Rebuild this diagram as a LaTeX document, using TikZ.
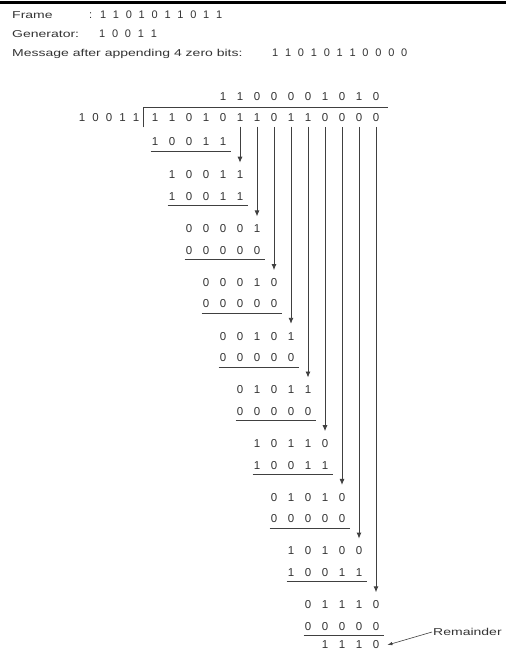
\documentclass[tikz,border=0pt]{standalone}
\usepackage{fontspec}
\setmainfont{Liberation Sans}
\newfontfamily\wordfont[FakeStretch=1.4]{Liberation Sans}
\usetikzlibrary{positioning,arrows.meta,calc}

\begin{document}
\begin{tikzpicture}[
  x=1pt, y=-1pt,
  word/.style={font=\wordfont\fontsize{10}{12}\selectfont, text=black!80, inner sep=0pt, anchor=west},
  bits/.style={font=\fontsize{11.5}{13}\selectfont, text=black!80, inner sep=0pt, execute at begin node={\spaceskip=#1\relax}},
  bits/.default=10.61pt,
  hbits/.style={bits=6.78pt, font=\fontsize{11}{13}\selectfont, anchor=base west},
  bit/.style={font=\fontsize{11.5}{13}\selectfont, text=black!80, inner sep=0pt},
  arr/.style={-{Latex[length=6pt,width=5pt]}, line width=0.9pt, draw=black!75, shorten <=5pt, shorten >=8pt},
  arrsmall/.style={-{Latex[length=5pt,width=3.5pt]}, line width=0.6pt, draw=black!75},
  rule/.style={line width=0.9pt, draw=black!75}
]
\useasboundingbox (0,0) rectangle (506,655);
\draw[line width=3pt] (0,2.5) -- (506,2.5);

% Given data
\node[word, anchor=base west] (frame) at (12,19) {Frame};
\node[hbits] (framebits) at (89,19) {: 1 1 0 1 0 1 1 0 1 1};
\node[word, anchor=base west] (gen) at (12,38) {Generator:};
\node[hbits] (genbits) at (99,38) {1 0 0 1 1};
\node[word, anchor=base west] (msg) at (12,57) {Message after appending 4 zero bits:};
\node[hbits] (msgbits) at (272,57) {1 1 0 1 0 1 1 0 0 0 0};

% Quotient, divisor and bracket
\node[bits] (quot) at (299.5,96.7) {1 1 0 0 0 0 1 0 1 0};
\node[bits=7.11pt] (divisor) at (109,117.5) {1 0 0 1 1};
\draw[rule] (143,127.5) -- (143,107.5) -- (388,107.5);

% Dividend, one node per bit
\node[bit] (d0) at (155,117.5) {1};
\node[bit] (d1) at (172,117.5) {1};
\node[bit] (d2) at (189,117.5) {0};
\node[bit] (d3) at (206,117.5) {1};
\node[bit] (d4) at (223,117.5) {0};
\node[bit] (d5) at (240,117.5) {1};
\node[bit] (d6) at (257,117.5) {1};
\node[bit] (d7) at (274,117.5) {0};
\node[bit] (d8) at (291,117.5) {1};
\node[bit] (d9) at (308,117.5) {1};
\node[bit] (d10) at (325,117.5) {0};
\node[bit] (d11) at (342,117.5) {0};
\node[bit] (d12) at (359,117.5) {0};
\node[bit] (d13) at (376,117.5) {0};

% First subtraction
\node[bits] (b0) at (189,142) {1 0 0 1 1};
\draw[rule] ([xshift=-1pt,yshift=-5pt]b0.south west) -- ([xshift=5pt,yshift=-5pt]b0.south east);

% Steps: bring down one bit, subtract
\node[bits] (a1) at (206,175) {1 0 0 1 1};
\node[bits] (b1) at (206,196.6) {1 0 0 1 1};
\node[bits] (a2) at (223,228.7) {0 0 0 0 1};
\node[bits] (b2) at (223,250.3) {0 0 0 0 0};
\node[bits] (a3) at (240,282.4) {0 0 0 1 0};
\node[bits] (b3) at (240,304) {0 0 0 0 0};
\node[bits] (a4) at (257,336.1) {0 0 1 0 1};
\node[bits] (b4) at (257,357.7) {0 0 0 0 0};
\node[bits] (a5) at (274,389.8) {0 1 0 1 1};
\node[bits] (b5) at (274,411.4) {0 0 0 0 0};
\node[bits] (a6) at (291,443.5) {1 0 1 1 0};
\node[bits] (b6) at (291,465.1) {1 0 0 1 1};
\node[bits] (a7) at (308,497.2) {0 1 0 1 0};
\node[bits] (b7) at (308,518.8) {0 0 0 0 0};
\node[bits] (a8) at (325,550.9) {1 0 1 0 0};
\node[bits] (b8) at (325,572.5) {1 0 0 1 1};
\node[bits] (a9) at (342,604.6) {0 1 1 1 0};
\node[bits] (b9) at (342,626.2) {0 0 0 0 0};

\draw[rule] ([xshift=-1pt,yshift=-5pt]b1.south west) -- ([xshift=5pt,yshift=-5pt]b1.south east);
\draw[rule] ([xshift=-1pt,yshift=-5pt]b2.south west) -- ([xshift=5pt,yshift=-5pt]b2.south east);
\draw[rule] ([xshift=-1pt,yshift=-5pt]b3.south west) -- ([xshift=5pt,yshift=-5pt]b3.south east);
\draw[rule] ([xshift=-1pt,yshift=-5pt]b4.south west) -- ([xshift=5pt,yshift=-5pt]b4.south east);
\draw[rule] ([xshift=-1pt,yshift=-5pt]b5.south west) -- ([xshift=5pt,yshift=-5pt]b5.south east);
\draw[rule] ([xshift=-1pt,yshift=-5pt]b6.south west) -- ([xshift=5pt,yshift=-5pt]b6.south east);
\draw[rule] ([xshift=-1pt,yshift=-5pt]b7.south west) -- ([xshift=5pt,yshift=-5pt]b7.south east);
\draw[rule] ([xshift=-1pt,yshift=-5pt]b8.south west) -- ([xshift=5pt,yshift=-5pt]b8.south east);
\draw[rule] ([xshift=-1pt,yshift=-5pt]b9.south west) -- ([xshift=5pt,yshift=-5pt]b9.south east);

% Bits brought down
\draw[arr] (d5) -- (d5 |- a1.north);
\draw[arr] (d6) -- (d6 |- a2.north);
\draw[arr] (d7) -- (d7 |- a3.north);
\draw[arr] (d8) -- (d8 |- a4.north);
\draw[arr] (d9) -- (d9 |- a5.north);
\draw[arr] (d10) -- (d10 |- a6.north);
\draw[arr] (d11) -- (d11 |- a7.north);
\draw[arr] (d12) -- (d12 |- a8.north);
\draw[arr] (d13) -- (d13 |- a9.north);

% Remainder
\node[bits] (rem) at (350.5,645) {1 1 1 0};
\node[word, inner sep=1pt] (remlbl) at (432,632) {Remainder};
\draw[arrsmall] (remlbl.west) -- ([xshift=8pt]rem.east);

\end{tikzpicture}
\end{document}
